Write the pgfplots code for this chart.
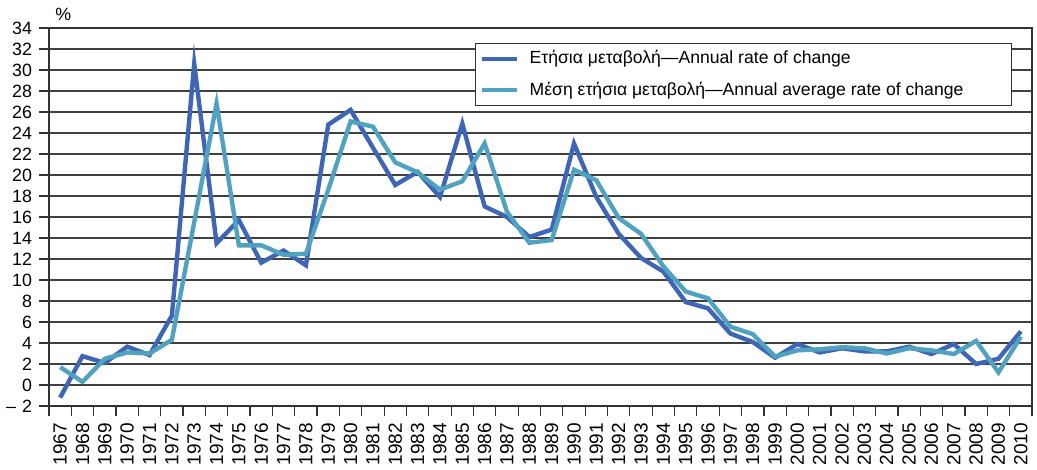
\documentclass[border=0pt]{standalone}
\usepackage{fontspec}
\setmainfont{Liberation Sans}
\usepackage{pgfplots}
\pgfplotsset{compat=1.18}
\definecolor{dblue}{RGB}{63,102,180}
\definecolor{lblue}{RGB}{80,162,192}
\begin{document}
\begin{tikzpicture}
\begin{axis}[
  scale only axis, width=491.5pt, height=189pt,
  xmin=1966.5, xmax=2010.5, ymin=-2, ymax=34,
  clip=false,
  ytick={-2,0,...,34},
  yticklabels={–\,\,2,0,2,4,6,8,10,12,14,16,18,20,22,24,26,28,30,32,34},
  xtick={1967,...,2010},
  minor xtick={1966.5,1967.5,...,2010.5},
  /pgf/number format/.cd, set thousands separator={}, assume math mode=true,
  /pgfplots/.cd,
  xticklabel style={rotate=90, anchor=east, font=\fontsize{9.5}{10}\selectfont},
  yticklabel style={font=\fontsize{8.9}{10}\selectfont},
  tick align=outside, major tick length=5pt, minor tick length=5pt,
  major x tick style={draw=none},
  minor x tick style={line width=0.6pt, black!80},
  major y tick style={line width=0.6pt, black!80},
  xtick pos=bottom, ytick pos=left,
  ymajorgrids, grid style={line width=0.6pt, black!75},
  axis line style={line width=0.6pt, black!80},
  legend style={at={(rel axis cs:0.9797,0.960)}, anchor=north east,
    draw=black!80, line width=0.6pt, font=\fontsize{8.8}{10}\selectfont,
    inner xsep=2.5pt, inner ysep=1.5pt, row sep=3.5pt},
  legend cell align=left,
  legend image code/.code={\draw[#1, line width=2.2pt] (0pt,0pt) -- (17.5pt,0pt);},
]
\addplot[dblue, line width=2.2pt] coordinates {
(1967,-1.2) (1968,2.75) (1969,2.1) (1970,3.65) (1971,2.85) (1972,6.6) (1973,30.6)
(1974,13.5) (1975,15.7) (1976,11.65) (1977,12.8) (1978,11.4) (1979,24.8) (1980,26.2)
(1981,22.6) (1982,19.05) (1983,20.3) (1984,17.9) (1985,24.9) (1986,17.0) (1987,16.0)
(1988,14.1) (1989,14.8) (1990,23.0) (1991,17.9) (1992,14.4) (1993,12.1) (1994,10.8)
(1995,7.9) (1996,7.3) (1997,4.9) (1998,4.1) (1999,2.6) (2000,3.9) (2001,3.1)
(2002,3.5) (2003,3.2) (2004,3.2) (2005,3.65) (2006,2.95) (2007,3.9) (2008,2.0)
(2009,2.5) (2010,5.1)
};
\addlegendentry{\hspace*{3pt}Ετήσια μεταβολή—Annual rate of change}
\addplot[lblue, line width=2.2pt] coordinates {
(1967,1.7) (1968,0.3) (1969,2.5) (1970,3.1) (1971,3.0) (1972,4.3) (1973,15.5)
(1974,26.8) (1975,13.3) (1976,13.3) (1977,12.4) (1978,12.5) (1979,18.6) (1980,25.1)
(1981,24.6) (1982,21.2) (1983,20.25) (1984,18.6) (1985,19.4) (1986,23.0) (1987,16.5)
(1988,13.55) (1989,13.8) (1990,20.5) (1991,19.5) (1992,15.9) (1993,14.4) (1994,11.3)
(1995,8.9) (1996,8.25) (1997,5.55) (1998,4.85) (1999,2.7) (2000,3.3) (2001,3.4)
(2002,3.6) (2003,3.5) (2004,3.0) (2005,3.5) (2006,3.3) (2007,2.95) (2008,4.2)
(2009,1.2) (2010,4.6)
};
\addlegendentry{\hspace*{3pt}Μέση ετήσια μεταβολή—Annual average rate of change\hspace*{19.5pt}\mbox{}}
\node[anchor=south west, font=\fontsize{8.9}{10}\selectfont, inner sep=1pt] at (rel axis cs:0.004,1.012) {\%};
\end{axis}
\pgfresetboundingbox
\path[use as bounding box] (-24.5pt,-32pt) rectangle (494pt,203pt);
\end{tikzpicture}
\end{document}
